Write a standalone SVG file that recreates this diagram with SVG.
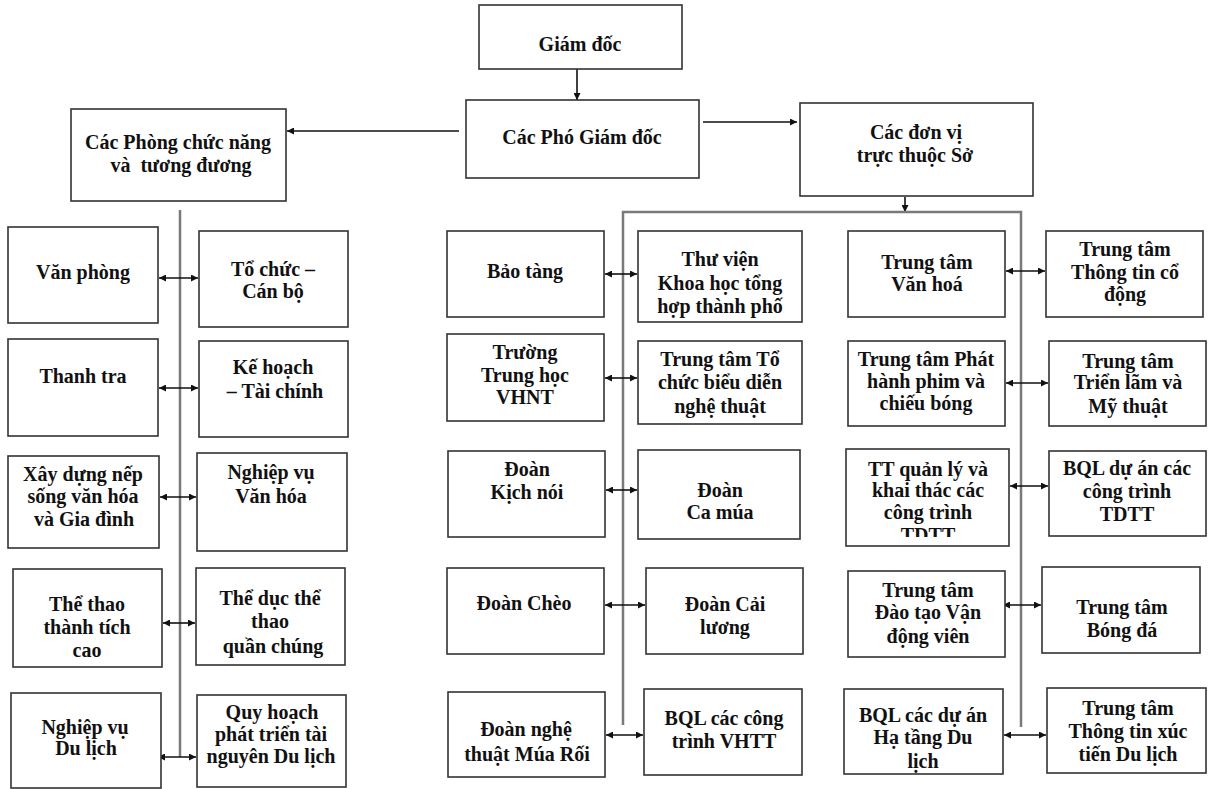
<svg xmlns="http://www.w3.org/2000/svg" width="1208" height="789" viewBox="0 0 1208 789">
<style>
.box{fill:#fff;stroke:#333;stroke-width:1.6}
text{font-family:"Liberation Serif","Times New Roman",serif;font-weight:bold;font-size:20px;fill:#111;text-anchor:middle}
.bus{stroke:#7a7a7a;stroke-width:2.5;fill:none}
.arr{stroke:#111;stroke-width:1.6;fill:none}
.dbl{stroke:#111;stroke-width:1.6;fill:none;marker-start:url(#ah);marker-end:url(#ah)}
.one{stroke:#111;stroke-width:1.6;fill:none;marker-end:url(#ah)}
</style>
<defs>
<marker id="ah" viewBox="0 0 10 10" refX="10" refY="5" markerWidth="9" markerHeight="7" markerUnits="userSpaceOnUse" orient="auto-start-reverse">
<path d="M0,0 L10,5 L0,10 z" fill="#111"/>
</marker>
<clipPath id="clipTD"><rect x="846" y="449" width="163" height="88"/></clipPath>
</defs>
<rect width="1208" height="789" fill="#fff"/>

<g id="connectors">
<line class="one" x1="577" y1="69" x2="577" y2="100"/>
<line class="one" x1="703" y1="122" x2="797" y2="122"/>
<line class="one" x1="459" y1="131" x2="287" y2="131"/>
<line class="one" x1="905" y1="197" x2="905" y2="212"/>
<line class="bus" x1="180" y1="210" x2="180" y2="757"/>
<polyline class="bus" points="623,725 623,212 1021,212 1021,727"/>
<line class="dbl" x1="159" y1="278" x2="198" y2="278"/>
<line class="dbl" x1="159" y1="388" x2="198" y2="388"/>
<line class="dbl" x1="160" y1="497" x2="196" y2="497"/>
<line class="dbl" x1="163" y1="623" x2="195" y2="623"/>
<line class="dbl" x1="158" y1="757" x2="196" y2="757"/>
<line class="dbl" x1="605" y1="274" x2="637" y2="274"/>
<line class="dbl" x1="605" y1="378" x2="637" y2="378"/>
<line class="dbl" x1="606" y1="490" x2="637" y2="490"/>
<line class="dbl" x1="605" y1="605" x2="645" y2="605"/>
<line class="dbl" x1="606" y1="735" x2="643" y2="735"/>
<line class="dbl" x1="1006" y1="271" x2="1045" y2="271"/>
<line class="dbl" x1="1006" y1="383" x2="1048" y2="383"/>
<line class="dbl" x1="1010" y1="486" x2="1048" y2="486"/>
<line class="dbl" x1="1003" y1="605" x2="1041" y2="605"/>
<line class="dbl" x1="1004" y1="735" x2="1046" y2="735"/>
</g>

<g id="giam-doc"><rect class="box" x="479" y="5" width="203" height="64"/><text x="580" y="51">Giám đốc</text></g>
<g id="pho-giam-doc"><rect class="box" x="466" y="100" width="233" height="78"/><text x="582" y="144">Các Phó Giám đốc</text></g>
<g id="cac-phong"><rect class="box" x="71" y="109" width="215" height="92"/><text x="178" y="149">Các Phòng chức năng</text><text x="181" y="172" xml:space="preserve">và  tương đương</text></g>
<g id="don-vi"><rect class="box" x="800" y="103" width="233" height="93"/><text x="916" y="139">Các đơn vị</text><text x="915" y="162">trực thuộc Sở</text></g>

<g id="van-phong"><rect class="box" x="8" y="227" width="150" height="96"/><text x="83" y="279">Văn phòng</text></g>
<g id="to-chuc"><rect class="box" x="199" y="231" width="149" height="96"/><text x="273" y="276">Tổ chức –</text><text x="273" y="298">Cán bộ</text></g>
<g id="thanh-tra"><rect class="box" x="8" y="339" width="150" height="97"/><text x="83" y="383">Thanh tra</text></g>
<g id="ke-hoach"><rect class="box" x="199" y="341" width="149" height="96"/><text x="273" y="374">Kế hoạch</text><text x="275" y="398">– Tài chính</text></g>
<g id="xay-dung"><rect class="box" x="8" y="456" width="151" height="92"/><text x="83" y="481">Xây dựng nếp</text><text x="83" y="503">sống văn hóa</text><text x="84" y="526">và Gia đình</text></g>
<g id="nghiep-vu-vh"><rect class="box" x="197" y="453" width="150" height="98"/><text x="271" y="479">Nghiệp vụ</text><text x="271" y="503">Văn hóa</text></g>
<g id="the-thao"><rect class="box" x="13" y="569" width="149" height="98"/><text x="87" y="611">Thể thao</text><text x="87" y="634">thành tích</text><text x="87" y="657">cao</text></g>
<g id="the-duc"><rect class="box" x="196" y="568" width="149" height="97"/><text x="270" y="605">Thể dục thể</text><text x="270" y="628">thao</text><text x="273" y="653">quần chúng</text></g>
<g id="nghiep-vu-dl"><rect class="box" x="11" y="693" width="150" height="95"/><text x="85" y="734">Nghiệp vụ</text><text x="86" y="755">Du lịch</text></g>
<g id="quy-hoach"><rect class="box" x="197" y="695" width="149" height="92"/><text x="272" y="719">Quy hoạch</text><text x="271" y="741">phát triển tài</text><text x="271" y="763">nguyên Du lịch</text></g>

<g id="bao-tang"><rect class="box" x="447" y="231" width="157" height="86"/><text x="525" y="278">Bảo tàng</text></g>
<g id="thu-vien"><rect class="box" x="638" y="231" width="164" height="91"/><text x="720" y="266">Thư viện</text><text x="720" y="290">Khoa học tổng</text><text x="720" y="313">hợp thành phố</text></g>
<g id="truong"><rect class="box" x="447" y="334" width="157" height="87"/><text x="525" y="359">Trường</text><text x="525" y="382">Trung học</text><text x="525" y="404">VHNT</text></g>
<g id="tt-to-chuc"><rect class="box" x="638" y="341" width="164" height="83"/><text x="720" y="366">Trung tâm Tổ</text><text x="720" y="389">chức biểu diễn</text><text x="720" y="413">nghệ thuật</text></g>
<g id="kich-noi"><rect class="box" x="448" y="451" width="157" height="86"/><text x="527" y="476">Đoàn</text><text x="527" y="499">Kịch nói</text></g>
<g id="ca-mua"><rect class="box" x="638" y="450" width="162" height="89"/><text x="720" y="497">Đoàn</text><text x="720" y="519">Ca múa</text></g>
<g id="cheo"><rect class="box" x="447" y="568" width="157" height="86"/><text x="524" y="610">Đoàn Chèo</text></g>
<g id="cai-luong"><rect class="box" x="646" y="568" width="157" height="86"/><text x="725" y="611">Đoàn Cải</text><text x="725" y="634">lương</text></g>
<g id="mua-roi"><rect class="box" x="448" y="692" width="157" height="85"/><text x="526" y="736">Đoàn nghệ</text><text x="527" y="761">thuật Múa Rối</text></g>
<g id="bql-vhtt"><rect class="box" x="644" y="689" width="158" height="86"/><text x="724" y="725">BQL các công</text><text x="724" y="748">trình VHTT</text></g>

<g id="tt-van-hoa"><rect class="box" x="848" y="231" width="157" height="86"/><text x="927" y="269">Trung tâm</text><text x="927" y="291">Văn hoá</text></g>
<g id="tt-co-dong"><rect class="box" x="1046" y="231" width="157" height="86"/><text x="1125" y="256">Trung tâm</text><text x="1125" y="279">Thông tin cổ</text><text x="1125" y="301">động</text></g>
<g id="tt-phim"><rect class="box" x="848" y="341" width="157" height="85"/><text x="926" y="366">Trung tâm Phát</text><text x="926" y="388">hành phim và</text><text x="926" y="410">chiếu bóng</text></g>
<g id="tt-trien-lam"><rect class="box" x="1049" y="341" width="157" height="85"/><text x="1128" y="368">Trung tâm</text><text x="1128" y="389">Triển lãm và</text><text x="1128" y="413">Mỹ thuật</text></g>
<g id="tt-quan-ly"><rect class="box" x="846" y="449" width="163" height="97"/><text x="928" y="476">TT quản lý và</text><text x="928" y="497">khai thác các</text><text x="928" y="519">công trình</text><text x="928" y="542" clip-path="url(#clipTD)">TDTT</text></g>
<g id="bql-tdtt"><rect class="box" x="1049" y="451" width="157" height="85"/><text x="1127" y="475">BQL dự án các</text><text x="1127" y="498">công trình</text><text x="1127" y="521">TDTT</text></g>
<g id="tt-dao-tao"><rect class="box" x="848" y="571" width="157" height="86"/><text x="928" y="597">Trung tâm</text><text x="928" y="619">Đào tạo Vận</text><text x="928" y="643">động viên</text></g>
<g id="tt-bong-da"><rect class="box" x="1042" y="567" width="158" height="86"/><text x="1122" y="614">Trung tâm</text><text x="1122" y="637">Bóng đá</text></g>
<g id="bql-ha-tang"><rect class="box" x="844" y="689" width="159" height="85"/><text x="923" y="722">BQL các dự án</text><text x="923" y="744">Hạ tầng Du</text><text x="923" y="768">lịch</text></g>
<g id="tt-xuc-tien"><rect class="box" x="1047" y="688" width="159" height="85"/><text x="1128" y="715">Trung tâm</text><text x="1128" y="738">Thông tin xúc</text><text x="1128" y="761">tiến Du lịch</text></g>
</svg>
